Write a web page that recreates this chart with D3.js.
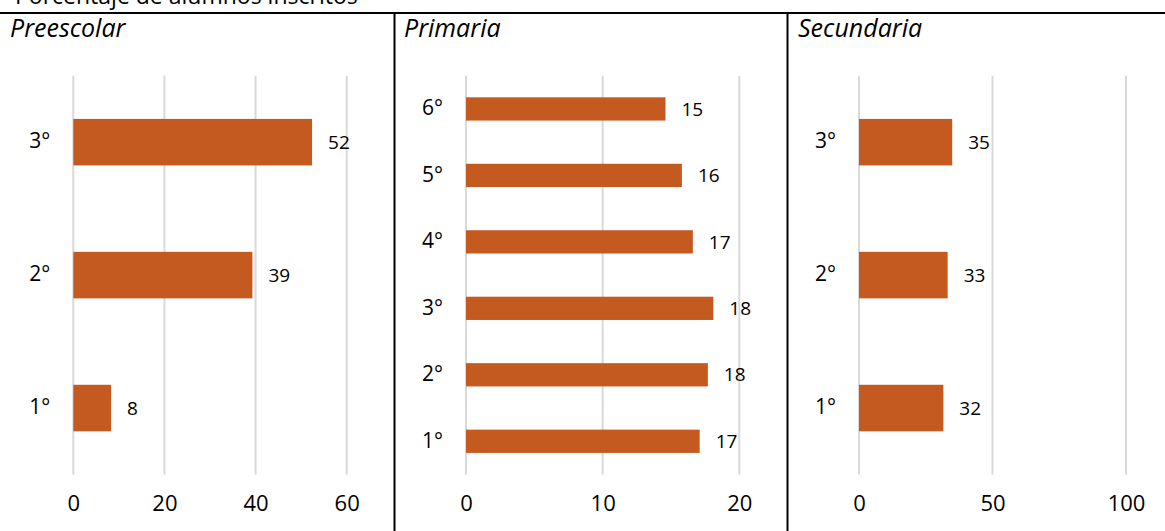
<!DOCTYPE html>
<html>
  <head>
    <meta charset="utf-8">
    <script src="https://d3js.org/d3.v7.min.js"></script>
    <title>Porcentaje de alumnos inscritos</title>
    <style>
      body { margin: 0; background: #fff; }
      text { font-family: "Open Sans", "Noto Sans", sans-serif; fill: #000; }
    </style>
  </head>
  <body>
    <svg width="1165" height="531" id="chart"></svg>
    <script>
      // datos
      var titulo = "Porcentaje de alumnos inscritos";
      var niveles = ["Preescolar", "Primaria", "Secundaria"];

      var gradosPreescolar = ["1°", "2°", "3°"];
      var valoresPreescolar = [8.3, 39.3, 52.4];
      var ticksPreescolar = [0, 20, 40, 60];

      var gradosPrimaria = ["1°", "2°", "3°", "4°", "5°", "6°"];
      var valoresPrimaria = [17.1, 17.7, 18.1, 16.6, 15.8, 14.6];
      var ticksPrimaria = [0, 10, 20];

      var gradosSecundaria = ["1°", "2°", "3°"];
      var valoresSecundaria = [31.6, 33.2, 34.9];
      var ticksSecundaria = [0, 50, 100];

      var svg = d3.select("#chart"),
          width = +svg.attr("width"),
          height = +svg.attr("height");

      var top0 = 75.7, bottom0 = 474.5;
      var naranja = "#c55a20";

      // el titulo queda cortado arriba, igual que en la original
      svg.append("text")
          .attr("x", 15)
          .attr("y", 4)
          .style("font-size", "23px")
          .text(titulo);

      // marco de los paneles
      svg.append("line")
          .attr("x1", 0).attr("x2", width)
          .attr("y1", 13).attr("y2", 13)
          .attr("stroke", "#000").attr("stroke-width", 2);
      [394.5, 787.5].forEach(function (x) {
        svg.append("line")
            .attr("x1", x).attr("x2", x)
            .attr("y1", 13).attr("y2", height)
            .attr("stroke", "#000").attr("stroke-width", 2);
      });

      function panel(nombre, titleX, grados, valores, ticks, x0, x1) {
        var data = grados.map(function (g, i) { return { grado: g, valor: valores[i] }; });
        var x = d3.scaleLinear()
            .domain([0, ticks[ticks.length - 1]])
            .range([x0, x1]);
        var y = d3.scaleBand()
            .domain(grados.slice().reverse())
            .range([top0, bottom0])
            .paddingInner(0.65)
            .paddingOuter(0.325);

        var g = svg.append("g");

        g.append("text")
            .attr("x", titleX)
            .attr("y", 37)
            .style("font-size", "25px")
            .style("font-style", "italic")
            .text(nombre);

        // rejilla vertical
        g.selectAll(".grid")
            .data(ticks)
            .enter().append("line")
            .attr("x1", function (d) { return x(d); })
            .attr("x2", function (d) { return x(d); })
            .attr("y1", top0)
            .attr("y2", bottom0)
            .attr("stroke", "#d9d9d9")
            .attr("stroke-width", 2);

        var axis = g.append("g")
            .attr("transform", "translate(0," + 503 + ")")
            .call(d3.axisBottom(x).tickValues(ticks).tickSize(0).tickPadding(0));
        axis.select(".domain").remove();
        axis.selectAll("text")
            .attr("dy", "0.35em")
            .style("font-size", "22px")
            .style("font-family", "'Open Sans', 'Noto Sans', sans-serif")
            .attr("fill", "#000");

        g.selectAll(".bar")
            .data(data)
            .enter().append("rect")
            .attr("class", "bar")
            .attr("x", x(0))
            .attr("y", function (d) { return y(d.grado); })
            .attr("width", function (d) { return x(d.valor) - x(0); })
            .attr("height", y.bandwidth())
            .attr("fill", naranja);

        g.selectAll(".valor")
            .data(data)
            .enter().append("text")
            .attr("x", function (d) { return x(d.valor) + 16; })
            .attr("y", function (d) { return y(d.grado) + y.bandwidth() / 2; })
            .attr("dy", "0.35em")
            .style("font-size", "19px")
            .text(function (d) { return Math.round(d.valor); });

        g.selectAll(".grado")
            .data(data)
            .enter().append("text")
            .attr("x", x(0) - 23)
            .attr("y", function (d) { return y(d.grado) + y.bandwidth() / 2; })
            .attr("dy", "0.3em")
            .attr("text-anchor", "end")
            .style("font-size", "21px")
            .text(function (d) { return d.grado; });
      }

      panel(niveles[0], 10, gradosPreescolar, valoresPreescolar, ticksPreescolar, 73.3, 346.7);
      panel(niveles[1], 404, gradosPrimaria, valoresPrimaria, ticksPrimaria, 466, 739.3);
      panel(niveles[2], 798, gradosSecundaria, valoresSecundaria, ticksSecundaria, 859, 1126);
    </script>
  </body>
</html>
